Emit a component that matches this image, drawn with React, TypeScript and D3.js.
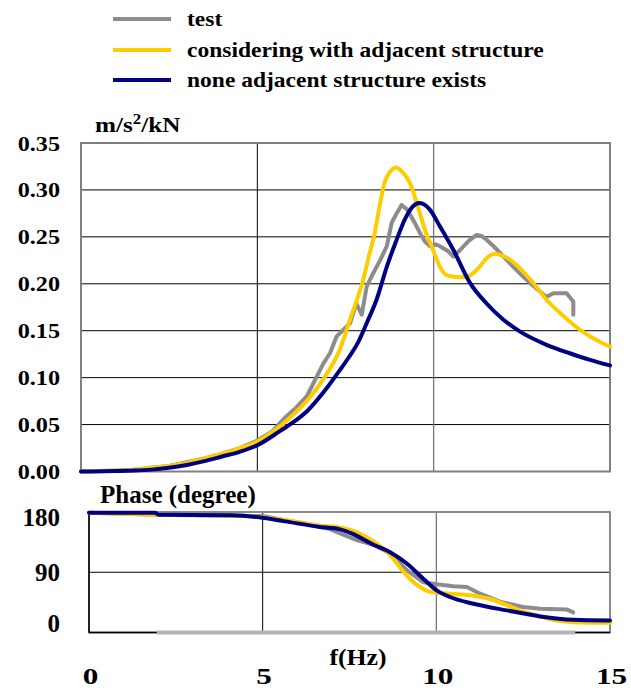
import React from "react";
import * as d3 from "d3";

type Pt = [number, number];

// Legend / series names
const seriesNames = ["test", "considering with adjacent structure", "none adjacent structure exists"];
const seriesColors = ["#8c8c8c", "#ffcc00", "#000080"];

// Tick values
const freqTicks = [0, 5, 10, 15];
const ampTicks = [0, 0.05, 0.1, 0.15, 0.2, 0.25, 0.3, 0.35];
const phaseTicks = [0, 90, 180];

// Amplitude (m/s^2/kN) vs frequency (Hz)
const testAmp: Pt[] = [
  [0, 0], [0.5, 0.0005], [1, 0.001], [1.5, 0.002], [2, 0.004], [2.5, 0.006], [3, 0.01], [3.5, 0.014],
  [4, 0.019], [4.5, 0.025], [5, 0.033], [5.4, 0.042], [5.83, 0.059], [6.1, 0.068], [6.4, 0.08],
  [6.59, 0.094], [6.87, 0.115], [7.06, 0.126], [7.25, 0.144], [7.44, 0.151], [7.63, 0.158],
  [7.81, 0.179], [7.96, 0.167], [8.1, 0.197], [8.24, 0.208], [8.48, 0.225], [8.67, 0.24],
  [8.81, 0.265], [8.95, 0.275], [9.09, 0.284], [9.25, 0.279], [9.42, 0.268], [9.6, 0.255],
  [9.75, 0.245], [9.9, 0.24], [10.05, 0.242], [10.18, 0.24], [10.4, 0.235], [10.56, 0.229],
  [10.75, 0.236], [11.0, 0.246], [11.22, 0.252], [11.35, 0.251], [11.5, 0.247], [11.7, 0.24],
  [11.88, 0.233], [12.26, 0.218], [12.5, 0.209], [12.73, 0.201], [13.0, 0.192], [13.2, 0.186],
  [13.39, 0.19], [13.77, 0.19], [13.96, 0.181], [13.96, 0.167],
];
const adjacentAmp: Pt[] = [
  [0, 0], [0.5, 0.0004], [1, 0.001], [1.5, 0.002], [2, 0.004], [2.5, 0.006], [3, 0.009], [3.5, 0.014],
  [4, 0.019], [4.5, 0.025], [5, 0.032], [5.5, 0.044], [6, 0.06], [6.4, 0.075], [6.9, 0.1],
  [7.34, 0.13], [7.63, 0.162], [8.0, 0.204], [8.2, 0.235], [8.3, 0.249], [8.45, 0.279],
  [8.6, 0.307], [8.72, 0.317], [8.93, 0.324], [9.14, 0.318], [9.33, 0.307], [9.61, 0.275],
  [9.8, 0.252], [9.94, 0.24], [10.18, 0.218], [10.37, 0.209], [10.75, 0.207], [11.03, 0.209],
  [11.3, 0.218], [11.55, 0.229], [11.75, 0.232], [11.95, 0.23], [12.15, 0.226], [12.35, 0.22],
  [12.82, 0.201], [13.2, 0.183], [13.58, 0.169], [14.15, 0.151], [14.72, 0.138], [15, 0.133],
];
const isolatedAmp: Pt[] = [
  [0, 0], [1, 0.0005], [1.5, 0.001], [2, 0.002], [2.5, 0.004], [3, 0.007], [3.5, 0.011], [4, 0.016],
  [4.5, 0.021], [5, 0.028], [5.64, 0.043], [6, 0.052], [6.4, 0.064], [6.97, 0.089], [7.34, 0.108],
  [7.6, 0.122], [7.85, 0.137], [8.1, 0.158], [8.38, 0.183], [8.67, 0.218], [8.95, 0.247],
  [9.2, 0.27], [9.4, 0.282], [9.6, 0.286], [9.75, 0.284], [9.89, 0.279], [10.18, 0.261],
  [10.56, 0.236], [11.03, 0.201], [11.5, 0.179], [11.97, 0.162], [12.45, 0.149], [13.2, 0.135],
  [13.86, 0.126], [14.43, 0.119], [15, 0.113],
];

// Phase (degree) vs frequency (Hz)
const testPhase: Pt[] = [
  [0, 179], [2, 176], [5, 174], [5.6, 168], [6.3, 162], [6.9, 155], [7.23, 148], [7.71, 138],
  [8.19, 131], [8.67, 118], [9.15, 93], [9.63, 75], [10.01, 72], [10.49, 69], [10.88, 68],
  [11.26, 58], [11.83, 46], [12.5, 38], [12.99, 35.5], [13.75, 34.5], [13.94, 30],
];
const adjacentPhase: Pt[] = [
  [0, 179], [2, 176], [4, 175], [5, 172], [6, 165], [6.6, 160], [7.23, 157], [7.7, 150],
  [8.19, 136], [8.67, 116], [9.05, 91], [9.44, 71], [9.7, 63], [9.91, 60], [10.39, 58],
  [11.07, 55], [11.55, 50], [12.03, 41], [12.5, 31], [13.0, 24], [13.47, 18], [14.43, 14.5], [15, 14.5],
];
const isolatedPhase: Pt[] = [
  [0, 179], [1.9, 179], [2.0, 176], [4.1, 175], [4.9, 172], [5.64, 166], [6.6, 158], [7.23, 154],
  [7.56, 148], [8.19, 131], [8.67, 120], [9.15, 103], [9.63, 80], [10.01, 63], [10.39, 53],
  [11.07, 43], [12.03, 33], [12.99, 24], [13.94, 19], [15, 18],
];
// Flat test trace along the phase axis floor
const testFloor: Pt[] = [[1.95, 0], [14.0, 0]];

const FONT = "'Liberation Serif', 'Times New Roman', serif";

type LabelProps = {
  x: number; y: number; size: number; sx?: number;
  anchor?: "start" | "middle" | "end"; children: React.ReactNode;
};

// Bold serif label, optionally widened horizontally around its anchor
function Label({ x, y, size, sx = 1, anchor = "start", children }: LabelProps) {
  return (
    <text transform={`translate(${x},${y}) scale(${sx},1)`} fontSize={size} textAnchor={anchor}
      fontFamily={FONT} fontWeight={700} fill="#000">
      {children}
    </text>
  );
}

export default function App() {
  const W = 631, H = 690;

  const xTop = d3.scaleLinear().domain([0, 15]).range([81, 610]);
  const yAmp = d3.scaleLinear().domain([0, 0.35]).range([471.5, 143]);
  const xBot = d3.scaleLinear().domain([0, 15]).range([89, 610]);
  const yPh = d3.scaleLinear().domain([0, 180]).range([632.5, 512]);

  const ampLine = (c: d3.CurveFactory) =>
    d3.line<Pt>().x((d) => xTop(d[0])).y((d) => yAmp(d[1])).curve(c);
  const phLine = (c: d3.CurveFactory) =>
    d3.line<Pt>().x((d) => xBot(d[0])).y((d) => yPh(d[1])).curve(c);

  const ampSeries = [testAmp, adjacentAmp, isolatedAmp];
  const phSeries = [testPhase, adjacentPhase, isolatedPhase];
  const curves = [d3.curveLinear, d3.curveMonotoneX, d3.curveMonotoneX];

  const legendY = [19, 50, 80];

  return (
    <svg width={W} height={H} style={{ position: "absolute", left: 0, top: 0, background: "#fff" }}>
      {/* legend */}
      {seriesNames.map((n, i) => (
        <g key={n}>
          <line x1={113} x2={171} y1={legendY[i]} y2={legendY[i]} stroke={seriesColors[i]} strokeWidth={4} />
          <Label x={187} y={legendY[i] + 7} size={21} sx={1.12}>{n}</Label>
        </g>
      ))}

      {/* amplitude panel */}
      <Label x={95} y={132} size={21} sx={1.2}>
        m/s<tspan dy={-8} fontSize={14}>2</tspan><tspan dy={8}>/kN</tspan>
      </Label>
      {ampTicks.slice(1, -1).map((t) => (
        <line key={t} x1={xTop(0)} x2={xTop(15)} y1={yAmp(t)} y2={yAmp(t)} stroke="#000" strokeWidth={1} />
      ))}
      <line x1={xTop(5)} x2={xTop(5)} y1={yAmp(0)} y2={yAmp(0.35)} stroke="#000" strokeWidth={1} />
      <line x1={xTop(10)} x2={xTop(10)} y1={yAmp(0)} y2={yAmp(0.35)} stroke="#6e6e6e" strokeWidth={1.2} />
      <rect x={xTop(0)} y={yAmp(0.35)} width={xTop(15) - xTop(0)} height={yAmp(0) - yAmp(0.35)}
        fill="none" stroke="#808080" strokeWidth={2} />
      {ampTicks.map((t) => (
        <Label key={t} x={60} y={yAmp(t) + 7.5} size={22} sx={1.1} anchor="end">{t.toFixed(2)}</Label>
      ))}
      {ampSeries.map((s, i) => (
        <path key={i} d={ampLine(curves[i])(s) ?? ""} fill="none" stroke={seriesColors[i]}
          strokeWidth={4} strokeLinejoin="round" strokeLinecap="round" />
      ))}

      {/* phase panel */}
      <Label x={100} y={503} size={25}>Phase (degree)</Label>
      <line x1={xBot(0)} x2={xBot(15)} y1={yPh(90)} y2={yPh(90)} stroke="#000" strokeWidth={1} />
      <line x1={xBot(5)} x2={xBot(5)} y1={yPh(0)} y2={yPh(180)} stroke="#000" strokeWidth={1} />
      <line x1={xBot(10)} x2={xBot(10)} y1={yPh(0)} y2={yPh(180)} stroke="#6e6e6e" strokeWidth={1.2} />
      <rect x={xBot(0)} y={yPh(180)} width={xBot(15) - xBot(0)} height={yPh(0) - yPh(180)}
        fill="none" stroke="#8a8a8a" strokeWidth={2} />
      <line x1={xBot(0)} x2={xBot(0)} y1={yPh(0)} y2={yPh(180)} stroke="#000" strokeWidth={1.5} />
      <line x1={xBot(0)} x2={xBot(15)} y1={yPh(0)} y2={yPh(0)} stroke="#000" strokeWidth={1.5} />
      {phaseTicks.map((t) => (
        <Label key={t} x={60} y={Math.min(Math.max(yPh(t), 517), 623) + 8.5} size={25} anchor="end">{t}</Label>
      ))}
      <path d={phLine(d3.curveLinear)(testFloor) ?? ""} stroke="#b4b4b4" strokeWidth={4} fill="none" />
      {phSeries.map((s, i) => (
        <path key={i} d={phLine(curves[i])(s) ?? ""} fill="none" stroke={seriesColors[i]}
          strokeWidth={4} strokeLinejoin="round" strokeLinecap="round" />
      ))}

      {/* frequency axis */}
      <Label x={358} y={665} size={23} sx={1.12} anchor="middle">f(Hz)</Label>
      {freqTicks.map((t) => (
        <Label key={t} x={xBot(t) + 1.5} y={684} size={24} sx={1.3} anchor="middle">{t}</Label>
      ))}
    </svg>
  );
}
